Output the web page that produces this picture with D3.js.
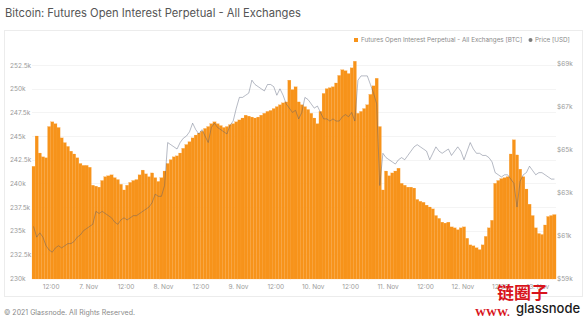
<!DOCTYPE html>
<html><head><meta charset="utf-8">
<script src="https://cdn.jsdelivr.net/npm/d3@7/dist/d3.min.js"></script>
<style>
body{margin:0;background:#fff;}
svg{display:block;font-family:Inter,"Open Sans",sans-serif;}
</style></head>
<body><svg id="c" width="587" height="324"></svg>
<script>
// ---- data (hourly, starting 2021-11-06 06:00 UTC) ----
const startTime = "2021-11-06T06:00:00Z";
const openInterestBTC = [ // thousands of BTC
241.8,245.0,243.2,242.8,242.7,246.0,246.5,246.3,245.9,244.8,244.3,243.9,243.4,243.1,242.7,242.1,241.9,241.9,241.7,239.8,
239.7,239.6,240.3,240.7,240.8,240.9,240.6,240.4,239.9,239.3,239.8,240.1,240.3,240.4,240.9,241.4,241.0,240.7,241.1,240.6,
240.2,240.6,241.3,242.1,242.5,242.8,242.9,243.2,243.7,244.1,244.4,244.8,245.1,245.3,245.5,245.8,246.0,246.3,246.5,246.3,
246.1,245.9,246.0,246.2,246.3,246.5,246.7,246.9,247.2,247.1,247.0,246.9,247.0,247.2,247.4,247.6,247.7,247.9,248.1,248.3,
248.5,248.6,250.9,249.9,250.2,248.6,248.3,248.1,247.8,247.4,246.9,246.3,247.6,249.5,250.0,250.1,250.2,250.6,251.4,252.0,
251.9,251.6,252.2,252.9,247.4,247.6,247.9,248.3,249.4,250.3,251.1,246.0,239.3,241.3,240.8,241.1,241.3,241.6,240.0,239.8,
239.6,239.6,239.5,238.3,238.1,238.0,237.7,237.5,237.3,236.6,236.3,235.9,235.8,235.9,235.4,235.3,235.1,235.3,235.4,234.2,
233.5,233.4,233.2,233.0,233.5,234.4,235.3,236.1,240.0,240.3,240.5,240.6,240.7,243.1,244.6,243.0,241.5,240.7,239.4,237.8,
236.6,235.3,234.7,234.6,235.6,236.5,236.6,236.7];
const priceUSD = [ // thousands of USD
61.4,60.9,61.1,60.9,60.5,60.3,60.2,60.4,60.5,60.4,60.5,60.6,60.6,60.7,60.9,61.0,61.2,61.3,61.4,61.5,
62.1,62.0,62.1,62.0,61.9,61.8,61.6,61.5,61.7,61.8,61.7,61.8,61.9,61.9,62.0,62.1,62.2,62.3,62.5,62.9,
62.8,62.8,63.3,65.3,65.2,65.1,65.0,65.3,65.5,65.6,65.8,66.2,65.9,65.7,65.9,65.6,65.3,66.0,66.2,66.0,
65.9,65.8,65.7,66.1,66.3,66.9,67.4,67.4,67.5,67.6,68.2,68.0,67.9,67.8,67.7,68.0,68.0,67.9,67.5,67.8,
67.5,67.1,66.9,66.7,66.8,66.4,66.7,67.4,67.3,67.1,66.9,67.0,66.7,66.4,66.4,66.3,66.4,66.3,66.3,66.5,
66.6,66.5,66.7,66.3,68.2,68.4,68.4,68.4,68.0,67.6,67.1,63.3,64.8,64.6,64.5,64.4,64.3,64.5,64.6,64.5,
64.7,64.9,65.1,65.2,65.1,65.0,64.9,64.5,64.8,65.1,64.9,64.8,64.9,65.0,64.7,64.9,65.1,64.9,64.5,64.9,
65.3,65.0,64.8,64.8,64.7,64.7,64.6,64.4,63.9,63.8,63.7,63.8,63.8,63.6,63.4,62.3,63.5,63.8,63.9,64.2,
64.0,63.8,63.9,63.9,63.8,63.7,63.6,63.6];
const leftTicks = [230,232.5,235,237.5,240,242.5,245,247.5,250,252.5];
const rightTicks = [59,61,63,65,67,69];
const xTickTimes = ["2021-11-06T12:00:00Z","2021-11-07T00:00:00Z","2021-11-07T12:00:00Z","2021-11-08T00:00:00Z",
  "2021-11-08T12:00:00Z","2021-11-09T00:00:00Z","2021-11-09T12:00:00Z","2021-11-10T00:00:00Z","2021-11-10T12:00:00Z",
  "2021-11-11T00:00:00Z","2021-11-11T12:00:00Z","2021-11-12T00:00:00Z","2021-11-12T12:00:00Z","2021-11-13T00:00:00Z"];
const xTickLabels = ["12:00","7. Nov","12:00","8. Nov","12:00","9. Nov","12:00","10. Nov","12:00","11. Nov","12:00","12. Nov","12:00","13. Nov"];
const titleText = "Bitcoin: Futures Open Interest Perpetual - All Exchanges";
const legendLabels = ["Futures Open Interest Perpetual - All Exchanges [BTC]","Price [USD]"];

// ---- build ----
const t0 = new Date(startTime);
const hour = 3600*1000;
const rows = openInterestBTC.map((v,i)=>({t:new Date(+t0+i*hour), oi:v, p:priceUSD[i]}));
const svg = d3.select("#c");
const L = 32, R = 556, B = 278;
const x = d3.scaleUtc().domain([t0, new Date(+t0 + openInterestBTC.length*hour)]).range([L,R]);
const yL = d3.scaleLinear().domain([230,252.5]).range([B,65]);
const yR = d3.scaleLinear().domain([59,69]).range([B,63]);

// title
svg.append("text").attr("x",5).attr("y",17).attr("font-size",11.2).attr("fill","#555").text(titleText);
// box
svg.append("rect").attr("x",4.5).attr("y",30.5).attr("width",578).attr("height",266).attr("fill","none").attr("stroke","#ececec");

// grid
svg.append("g").selectAll("line").data(leftTicks).join("line")
  .attr("x1",L).attr("x2",R).attr("y1",d=>Math.round(yL(d))+0.5).attr("y2",d=>Math.round(yL(d))+0.5)
  .attr("stroke","#f4f4f4");

// bars
const bw = x(new Date(+t0+hour)) - x(t0);
svg.append("g").selectAll("rect").data(rows).join("rect")
  .attr("x",d=>x(d.t)).attr("width",bw+0.05)
  .attr("y",d=>yL(d.oi)).attr("height",d=>yL(230)-yL(d.oi)+1)
  .attr("fill","#f7931a").attr("stroke","#f9a644").attr("stroke-width",0.2);

// price line
const line = d3.line().x(d=>x(d.t)+bw/2).y(d=>yR(d.p));
svg.append("path").datum(rows).attr("d",line).attr("fill","none")
  .attr("stroke","#4f5a70").attr("stroke-opacity",0.6).attr("stroke-width",0.7);

// axes
const gl = svg.append("g").attr("transform","translate(10,0)")
  .call(d3.axisRight(yL).tickValues(leftTicks).tickSize(0).tickPadding(0).tickFormat(d=>d+"k"));
const gr = svg.append("g").attr("transform","translate(557,0)")
  .call(d3.axisRight(yR).tickValues(rightTicks).tickSize(0).tickPadding(0).tickFormat(d=>"$"+d+"k"));
const gx = svg.append("g").attr("transform","translate(0,284)")
  .call(d3.axisBottom(x).tickValues(xTickTimes.map(s=>new Date(s))).tickSize(0).tickPadding(0)
     .tickFormat((d,i)=>xTickLabels[i]));
[gl,gr,gx].forEach(g=>{
  g.select(".domain").remove();
  g.selectAll("text").attr("fill","#9a9a9a").attr("font-size",6.5).attr("font-family","Inter,'Open Sans',sans-serif");
});

// legend
const lg = svg.append("g").attr("font-size",6.3).attr("fill","#8a8a8a");
lg.append("rect").attr("x",354).attr("y",38).attr("width",4).attr("height",4).attr("fill","#f7931a");
lg.append("text").attr("x",361).attr("y",42.3).text(legendLabels[0]);
lg.append("circle").attr("cx",530.5).attr("cy",40).attr("r",2).attr("fill","#7c7c7c");
lg.append("text").attr("x",535).attr("y",42.3).text(legendLabels[1]);

// footer
svg.append("text").attr("x",4).attr("y",315).attr("font-size",7).attr("fill","#8a8a8a")
  .text("© 2021 Glassnode. All Rights Reserved.");
// watermarks (overlay present in the reference image)
svg.append("text").attr("x",497).attr("y",299).attr("font-size",17).attr("font-weight","bold")
  .attr("font-family","'Noto Sans CJK SC',sans-serif").attr("fill","#d8141c").text("链圈子");
svg.append("text").attr("x",475).attr("y",316).attr("font-size",11).attr("font-weight","bold")
  .attr("font-family","'Liberation Serif',serif").attr("fill","#d8141c").text("WWW.");
svg.append("text").attr("x",516).attr("y",313).attr("font-size",13).attr("font-weight","500")
  .attr("fill","#1a1a1a").text("glassnode");
</script></body></html>
